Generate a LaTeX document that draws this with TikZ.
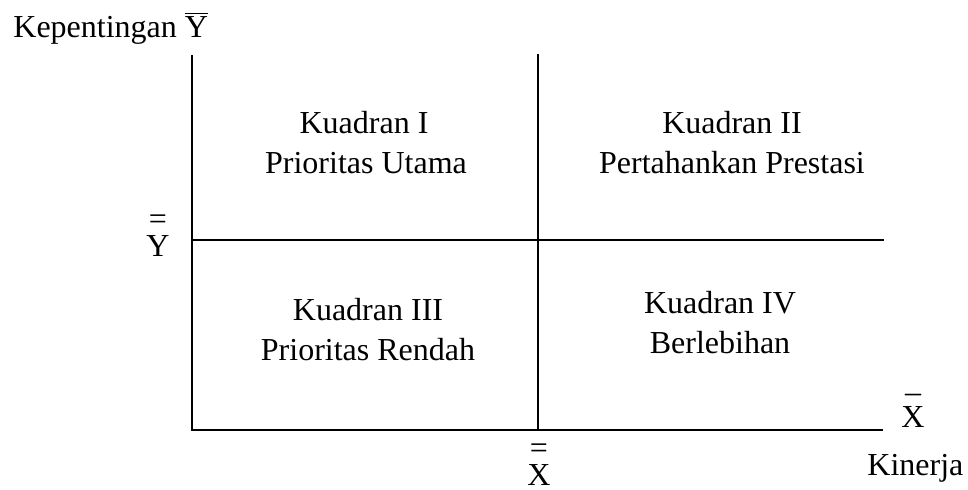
\documentclass[tikz,border=0pt]{standalone}
\usepackage{fontspec}
\setmainfont{Liberation Serif}
\usetikzlibrary{positioning}

\begin{document}
\begin{tikzpicture}[x=0.5pt,y=-0.5pt]
\tikzstyle{every node}+=[inner sep=0pt, font=\fontsize{16}{20}\selectfont]
\tikzstyle{axis}=[black, line width=1pt]
\tikzstyle{mean}=[align=center, anchor=south]
\useasboundingbox (0,0) rectangle (968,489);
% axes and quadrant borders
\coordinate (O) at (192,430);
\coordinate (ytop) at (192,55);
\coordinate (xend) at (883,430);
\coordinate (mtop) at (538,54);
\coordinate (mbot) at (538,430);
\coordinate (mleft) at (192,240);
\coordinate (mright) at (884,240);
\draw [axis] (ytop) -- (O) -- (xend);
\draw [axis] (mtop) -- (mbot);
\draw [axis] (mleft) -- (mright);
% axis labels
\node [anchor=base west] (kep) at (13,37) {Kepentingan $\overline{\mbox{Y}}$};
\node [anchor=base west] (kin) at (867,475) {Kinerja};
\node [mean] (ymean) at (158,257) {=\\[-6.5pt]Y};
\node [mean] (xmean) at (539,486) {=\\[-6.5pt]X};
\node [mean] (xbar) at (913,428) {--\\[-7.5pt]X};
% quadrants
\node [anchor=base] (k1) at (364,133) {Kuadran I};
\node [anchor=base] (k1b) at (366,173) {Prioritas Utama};
\node [anchor=base] (k2) at (732,133) {Kuadran II};
\node [anchor=base] (k2b) at (732,173) {Pertahankan Prestasi};
\node [anchor=base] (k3) at (368,320) {Kuadran III};
\node [anchor=base] (k3b) at (368,360) {Prioritas Rendah};
\node [anchor=base] (k4) at (720,313) {Kuadran IV};
\node [anchor=base] (k4b) at (720,353) {Berlebihan};
\end{tikzpicture}
\end{document}
